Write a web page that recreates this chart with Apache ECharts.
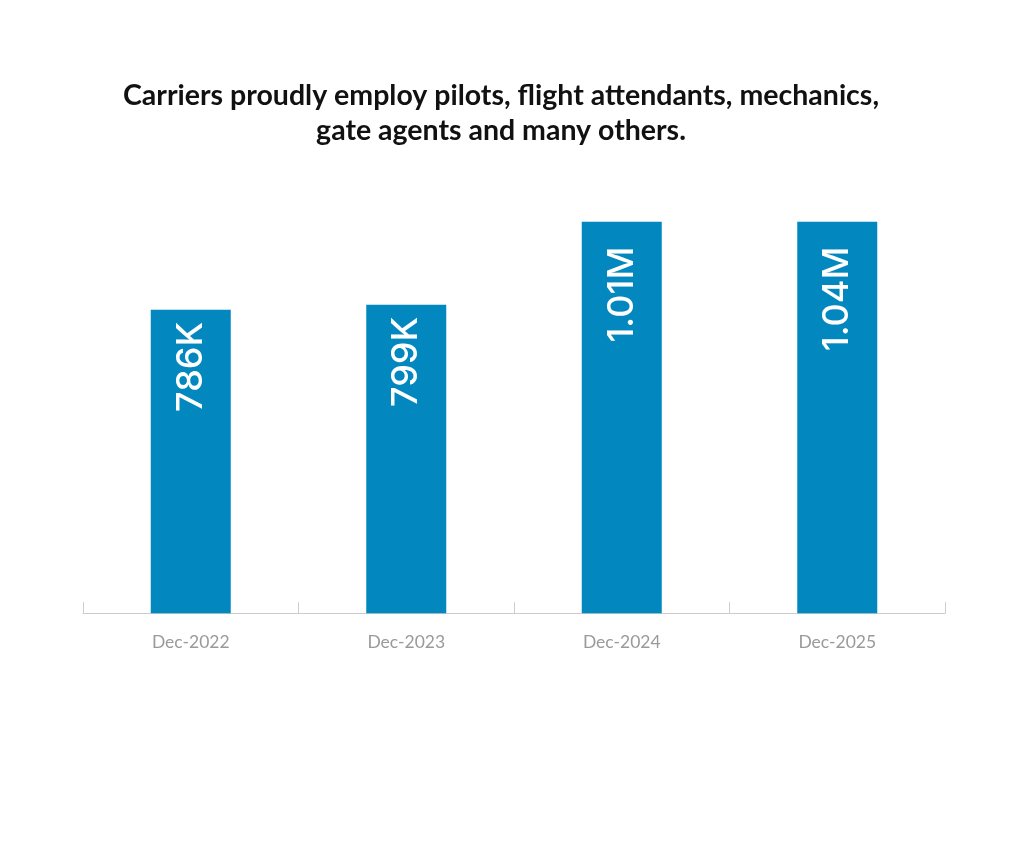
<!DOCTYPE html>
<html><head><meta charset="utf-8">
<script src="https://cdn.jsdelivr.net/npm/echarts@6/dist/echarts.min.js"></script>
<style>html,body{margin:0;padding:0;background:#fff}#c{width:1024px;height:858px}</style>
</head><body><div id="c"></div>
<script>
const titleText = 'Carriers proudly employ pilots, flight attendants, mechanics,\ngate agents and many others.';
const categories = ['Dec-2022', 'Dec-2023', 'Dec-2024', 'Dec-2025'];
const employees = [786000, 799000, 1014000, 1040000];
const valueLabels = ['786K', '799K', '1.01M', '1.04M'];

const chart = echarts.init(document.getElementById('c'));
chart.setOption({
  animation: false,
  backgroundColor: '#ffffff',
  title: {
    text: titleText,
    left: 496, textAlign: 'center', top: 73,
    textStyle: { fontFamily: 'Lato', fontWeight: 'bold', fontSize: 28.5, lineHeight: 35, color: '#111111' }
  },
  grid: { left: 83, right: 79, top: 221.7, bottom: 244.7, containLabel: false },
  xAxis: {
    type: 'category', data: categories,
    axisLine: { lineStyle: { color: '#cccccc', width: 1 } },
    axisTick: { show: true, inside: true, length: 11, lineStyle: { color: '#cccccc' } },
    axisLabel: { color: '#9a9a9a', fontSize: 17.5, fontFamily: 'Lato', margin: 20 }
  },
  yAxis: { type: 'value', min: 0, max: 1014000, show: false, splitLine: { show: false } },
  series: [{
    type: 'bar', barWidth: 80,
    itemStyle: { color: '#0288bf' },
    data: employees.map((v, i) => ({
      value: v,
      label: { distance: i >= 2 ? 25 : 12 }
    })),
    label: {
      show: true, position: 'insideTop', rotate: 90,
      align: 'right', verticalAlign: 'middle',
      color: '#ffffff', fontSize: 36, fontFamily: 'Inter', fontWeight: 500,
      formatter: p => valueLabels[p.dataIndex]
    }
  }]
});
</script></body></html>
